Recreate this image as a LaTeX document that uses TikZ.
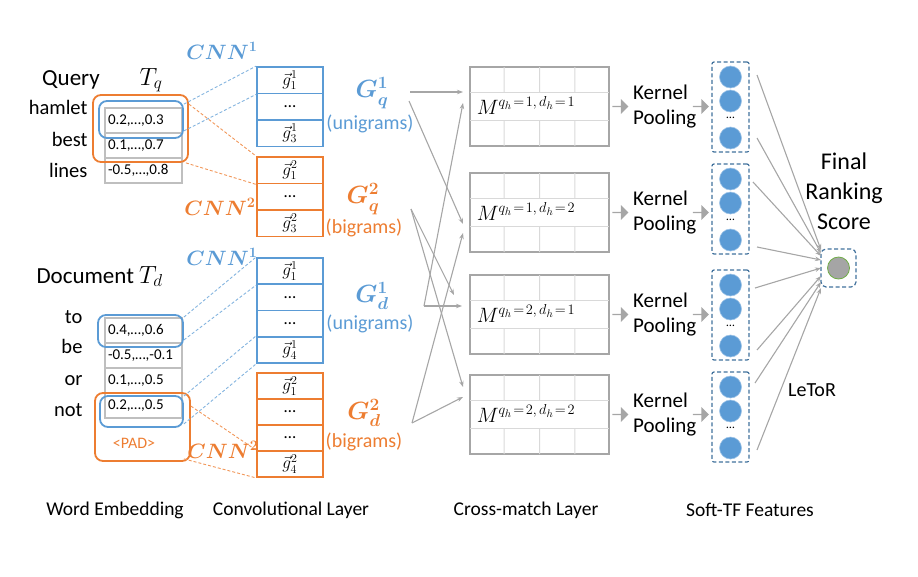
\documentclass[tikz,border=0pt]{standalone}
\usepackage{fontspec}
\setmainfont{Carlito}
\usepackage{amsmath}
\usetikzlibrary{shapes.arrows,arrows.meta,calc}
\definecolor{cblue}{HTML}{5B9BD5}
\definecolor{corange}{HTML}{ED7D31}
\definecolor{cgray}{HTML}{A6A6A6}
\definecolor{clgray}{HTML}{BFBFBF}
\definecolor{cgrid}{HTML}{D9D9D9}
\definecolor{cdash}{HTML}{41719C}
\definecolor{cgreen}{HTML}{70AD47}
\definecolor{cdot}{HTML}{A5A5A5}
\newcommand{\fsz}[2]{\fontsize{#1}{#2}\selectfont}
\begin{document}
\begin{tikzpicture}[x=1pt,y=-1pt,
 emb/.style={draw=clgray,line width=1.8pt,minimum width=77pt,minimum height=25pt,inner sep=0pt,text width=71pt,align=left,font=\fsz{15}{16}},
 word/.style={anchor=base east,font=\fsz{20.5}{24}},
 cnnb/.style={draw=cblue,line width=1.8pt,minimum width=66pt,inner sep=0pt,font=\fsz{17}{18}},
 cnno/.style={cnnb,draw=corange},
 rb/.style={draw=cblue,line width=1.8pt,rounded corners=8pt,inner sep=0pt},
 ro/.style={rb,draw=corange},
 dlb/.style={draw=cblue!75,dash pattern=on 3pt off 2pt,line width=0.9pt},
 dlo/.style={draw=corange!80,dash pattern=on 3pt off 2pt,line width=0.9pt},
 cnnlab/.style={font=\fsz{20}{24}},
 glab/.style={font=\fsz{23}{26},inner sep=1pt},
 sublab/.style={font=\fsz{20}{24},inner sep=1pt},
 mbox/.style={draw=cgray,line width=2.8pt,minimum width=139pt,minimum height=79pt,inner sep=0pt},
 gridl/.style={draw=cgrid,line width=1pt},
 mlab/.style={anchor=base west,font=\fsz{22}{24},inner sep=0pt},
 blk/.style={single arrow,fill=cgray,draw=none,minimum height=16pt,minimum width=15pt,single arrow head extend=2.5pt,inner sep=0pt},
 kp/.style={anchor=west,align=left,font=\fsz{21}{25},inner sep=0pt},
 fbox/.style={draw=cdash,dash pattern=on 4pt off 2.5pt,line width=1.2pt,minimum width=37pt,minimum height=90pt,rounded corners=2pt,inner sep=0pt},
 circ/.style={circle,fill=cblue,draw=cblue!60!white,line width=0.6pt,minimum size=22pt,inner sep=0pt},
 dots/.style={font=\fsz{12}{14},inner sep=0pt},
 garr/.style={draw=cgray,line width=1.1pt,-{Stealth[length=6pt,width=4.5pt]}},
 bot/.style={font=\fsz{19.5}{24}},
]
\useasboundingbox (0,0) rectangle (918,576);

% ---------------- Query ----------------
\node[anchor=base,font=\fsz{23}{26}] (query) at (71,85) {Query};
\node[anchor=base,font=\fsz{24}{26}] (tq) at (151,85) {$T_q$};
\node[word] (w1) at (91,114) {hamlet};
\node[word] (w2) at (91,146) {best};
\node[word] (w3) at (91,177) {lines};
\node[emb] (q1) at (143.5,120.5) {0.2,…,0.3};
\node[emb] (q2) at (143.5,145.5) {0.1,…,0.7};
\node[emb] (q3) at (143.5,170.5) {-0.5,…,0.8};
\node[ro,minimum width=95pt,minimum height=67pt] (qo) at (140.5,128.5) {};
\node[rb,minimum width=84pt,minimum height=37pt] (qb) at (141,119.5) {};

% CNN boxes for query
\node[cnnb,minimum height=26.5pt] (cq11) at (290,80.25) {$\vec{g}_1^1$};
\node[cnnb,minimum height=26.5pt] (cq12) at (290,106.75) {…};
\node[cnnb,minimum height=26.5pt] (cq13) at (290,133.25) {$\vec{g}_3^1$};
\node[cnno,minimum height=26.5pt] (cq21) at (290,170.25) {$\vec{g}_1^2$};
\node[cnno,minimum height=26.5pt] (cq22) at (290,196.75) {…};
\node[cnno,minimum height=26.5pt] (cq23) at (290,223.25) {$\vec{g}_3^2$};
\node[cnnlab,text=cblue] (cnnq1) at (222,51) {$\boldsymbol{CNN^1}$};
\node[cnnlab,text=corange] (cnnq2) at (220,207) {$\boldsymbol{CNN^2}$};

\draw[dlb] ([yshift=-4pt]qb.north east) -- (cq11.north west);
\draw[dlb] ([yshift=8pt]qb.south east) -- (cq11.south west);
\draw[dlo] ([yshift=-10pt]qo.north east) -- (cq21.north west);
\draw[dlo] ([xshift=-3pt]qo.south east) -- (cq21.south west);

% ---------------- Document ----------------
\node[anchor=base west,font=\fsz{23}{26}] (doc) at (33,283) {Document $T_d$};
\node[word] (v1) at (86,323) {to};
\node[word] (v2) at (86,353) {be};
\node[word] (v3) at (86,385) {or};
\node[word] (v4) at (86,416) {not};
\node[emb] (d1) at (143.5,330.5) {0.4,…,0.6};
\node[emb] (d2) at (143.5,355.5) {-0.5,…,-0.1};
\node[emb] (d3) at (143.5,380.5) {0.1,…,0.5};
\node[emb] (d4) at (143.5,405.5) {0.2,…,0.5};
\node[ro,minimum width=95pt,minimum height=68pt] (dor) at (142.5,427) {};
\node[rb,minimum width=85pt,minimum height=32pt] (db1) at (140.5,331) {};
\node[rb,minimum width=83pt,minimum height=31pt] (db2) at (141.5,411.5) {};
\node[text=corange,font=\fsz{16}{18}] (pad) at (134,443) {<PAD>};

\node[cnnb,minimum height=26.25pt] (cd11) at (290,271.1) {$\vec{g}_1^1$};
\node[cnnb,minimum height=26.25pt] (cd12) at (290,297.4) {…};
\node[cnnb,minimum height=26.25pt] (cd13) at (290,323.6) {…};
\node[cnnb,minimum height=26.25pt] (cd14) at (290,349.9) {$\vec{g}_4^1$};
\node[cnno,minimum height=26pt] (cd21) at (290,386) {$\vec{g}_1^2$};
\node[cnno,minimum height=26pt] (cd22) at (290,412) {…};
\node[cnno,minimum height=26pt] (cd23) at (290,438) {…};
\node[cnno,minimum height=26pt] (cd24) at (290,464) {$\vec{g}_4^2$};
\node[cnnlab,text=cblue] (cnnd1) at (222,257) {$\boldsymbol{CNN^1}$};
\node[cnnlab,text=corange] (cnnd2) at (223,450) {$\boldsymbol{CNN^2}$};

\draw[dlb] ([yshift=-3pt]db1.north east) -- (cd11.north west);
\draw[dlb] ([yshift=8pt]db1.south east) -- (cd11.south west);
\draw[dlb] ([yshift=-1pt]db2.north east) -- (cd14.north west);
\draw[dlb] ([yshift=4pt]db2.south east) -- (cd14.south west);
\draw[dlo] ([yshift=-14pt]dor.north east) -- (cd24.north west);
\draw[dlo] ([xshift=-7pt,yshift=3pt]dor.south east) -- (cd24.south west);

% ---------------- G labels ----------------
\node[glab,text=cblue] (gq1) at (372,93) {$\boldsymbol{G_q^1}$};
\node[sublab,text=cblue] (gq1s) at (370,124) {(unigrams)};
\node[glab,text=corange] (gq2) at (363,199) {$\boldsymbol{G_q^2}$};
\node[sublab,text=corange] (gq2s) at (364,228) {(bigrams)};
\node[glab,text=cblue] (gd1) at (372,296) {$\boldsymbol{G_d^1}$};
\node[sublab,text=cblue] (gd1s) at (370,324) {(unigrams)};
\node[glab,text=corange] (gd2) at (364,413) {$\boldsymbol{G_d^2}$};
\node[sublab,text=corange] (gd2s) at (364,442) {(bigrams)};

% ---------------- Cross-match ----------------
\foreach \i/\m/\f/\a/\b in {1/106.5/107/1/1, 2/212.5/209/1/2, 3/314.5/315/2/1, 4/414.5/417/2/2} {
  \node[mbox] (M\i) at (539.5,\m) {};
  \foreach \t in {0.25,0.5,0.75} {
    \draw[gridl,shorten <=1.4pt] ($(M\i.north west)!\t!(M\i.north east)$) -- ($(M\i.north west)!0.333!(M\i.south west)!\t!($(M\i.north east)!0.333!(M\i.south east)$)$);
    \draw[gridl,shorten >=1.4pt] ($(M\i.north west)!0.667!(M\i.south west)!\t!($(M\i.north east)!0.667!(M\i.south east)$)$) -- ($(M\i.south west)!\t!(M\i.south east)$);
  }
  \foreach \t in {0.333,0.667}
    \draw[gridl,shorten <=1.4pt,shorten >=1.4pt] ($(M\i.north west)!\t!(M\i.south west)$) -- ($(M\i.north east)!\t!(M\i.south east)$);
  \node[mlab] (ml\i) at ([xshift=8pt,yshift=-8pt]M\i.west) {$M^{\text{\fsz{15}{16}$q_h\!=\!\a,d_h\!=\!\b$}}$};
  \node[blk] (ka\i) at (620,\m) {};
  \node[kp] (kt\i) at (633,\m) {Kernel\\Pooling};
  \node[blk] (kb\i) at (700.5,\m) {};
  \node[fbox] (fb\i) at (730.5,\f) {};
  \node[circ] (c\i a) at (730.5,\f-30) {};
  \node[circ] (c\i b) at (730.5,\f-6) {};
  \node[dots] (c\i d) at (730.5,\f+11) {…};
  \node[circ] (c\i c) at (730.5,\f+31) {};
}

% G -> M arrows
\coordinate (sq1a) at (410,92);
\coordinate (sq1b) at (409,101);
\coordinate (sq2) at (411,209);
\coordinate (sd1) at (424,306);
\coordinate (sd2) at (412,423);
\coordinate (e1a) at (463,92);
\coordinate (e1b) at (463,103);
\coordinate (e2a) at (463,224);
\coordinate (e2b) at (463,233);
\coordinate (e3a) at (454,295);
\coordinate (e3b) at (462,306);
\coordinate (e4a) at (463,387);
\coordinate (e4b) at (463,397);
\draw[garr] (sq1a) -- (e1a);
\draw[garr] (sq1b) -- (e2a);
\draw[garr] (sq2) -- (e3a);
\draw[garr] (sq2) -- (e4a);
\draw[garr] (sd1) -- (e1b);
\draw[garr] (sd1) -- (e3b);
\draw[garr] (sd2) -- (e2b);
\draw[garr] (sd2) -- (e4b);

% ---------------- Final score ----------------
\node[fbox,minimum width=35pt,minimum height=38pt,rounded corners=5pt] (fin) at (838.5,268) {};
\node[circle,fill=cdot,draw=cgreen,line width=0.8pt,minimum size=22pt,inner sep=0pt] (fc) at (838.5,268) {};
\node[align=center,font=\fsz{24}{30}] (fintxt) at (844,191) {Final\\Ranking\\Score};
\node[font=\fsz{20}{24}] (letor) at (812,390) {LeToR};

\coordinate (s1a) at (757,75);
\coordinate (s1b) at (757,138);
\coordinate (s2a) at (753,182);
\coordinate (s2b) at (757,247);
\coordinate (s3a) at (755,288);
\coordinate (s3b) at (757,350);
\coordinate (s4a) at (755,383);
\coordinate (s4b) at (757,450);
\coordinate (t1a) at (821,250);
\coordinate (t1b) at (821,253);
\coordinate (t2a) at (821,256);
\coordinate (t2b) at (821,260);
\coordinate (t3a) at (821,268);
\coordinate (t3b) at (821,276);
\coordinate (t4a) at (821,282);
\coordinate (t4b) at (821,288);
\foreach \j in {1a,1b,2a,2b,3a,3b,4a,4b}
  \draw[garr] (s\j) -- (t\j);

% ---------------- Bottom labels ----------------
\node[bot] (b1) at (115,510) {Word Embedding};
\node[bot] (b2) at (291,510) {Convolutional Layer};
\node[bot] (b3) at (526,510) {Cross-match Layer};
\node[bot] (b4) at (750,510) {Soft-TF Features};
\end{tikzpicture}
\end{document}
